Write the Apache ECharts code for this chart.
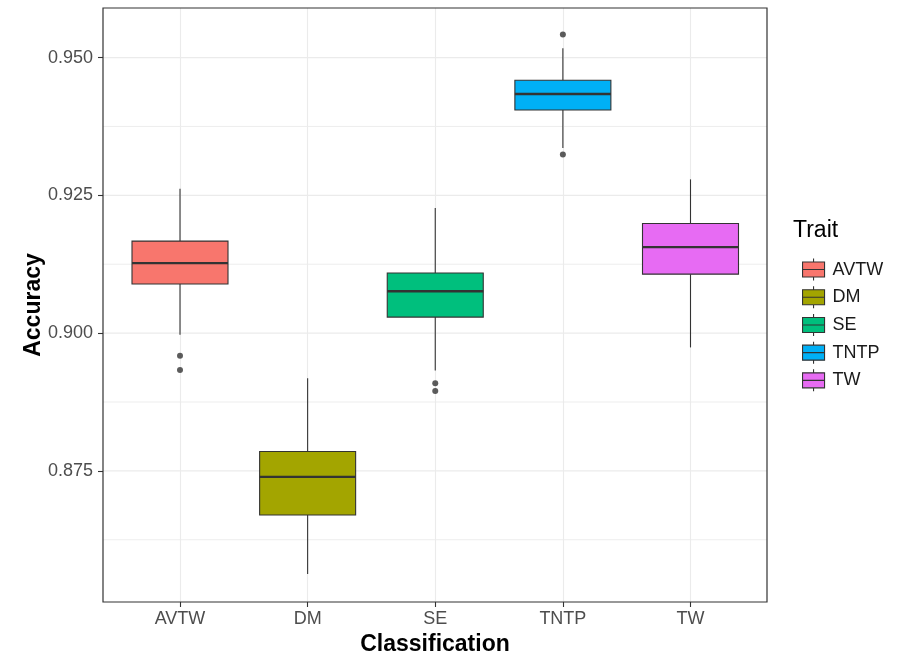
<!DOCTYPE html>
<html>
<head>
<meta charset="utf-8">
<script src="https://cdn.jsdelivr.net/npm/echarts@6/dist/echarts.min.js"></script>
<style>
  html, body { margin: 0; padding: 0; background: #fff; }
  #chart { width: 897px; height: 656px; }
</style>
</head>
<body>
<div id="chart"></div>
<script>
// Classification accuracy per trait: five-number summaries and outliers
const categories = ['AVTW', 'DM', 'SE', 'TNTP', 'TW'];
const traits = ['AVTW', 'DM', 'SE', 'TNTP', 'TW'];
const lowerWhisker = [0.8997, 0.8563, 0.8932, 0.9336, 0.8974];
const q1Values     = [0.9089, 0.8670, 0.9029, 0.9405, 0.9107];
const medians      = [0.9127, 0.8739, 0.9076, 0.9434, 0.9156];
const q3Values     = [0.9167, 0.8785, 0.9109, 0.9459, 0.9199];
const upperWhisker = [0.9262, 0.8918, 0.9227, 0.9517, 0.9279];
const outliers = [
  [0, 0.8959], [0, 0.8933],
  [2, 0.8909], [2, 0.8895],
  [3, 0.9542], [3, 0.9324]
];
const yTicks = [0.875, 0.900, 0.925, 0.950];
const yMinorTicks = [0.8625, 0.8875, 0.9125, 0.9375];
const traitColors = ['#F8766D', '#A3A500', '#00BF7D', '#00B0F6', '#E76BF3'];

const FONT = 'Liberation Sans, Arial, sans-serif';
const Y_MIN = 0.8512, Y_MAX = 0.9590;
const BOX_HALF = 48;
const OUTLINE = '#333333';
const GRID_COLOR = '#EBEBEB';

const chart = echarts.init(document.getElementById('chart'), null, { renderer: 'canvas' });

function renderBox(params, api) {
  const x = api.value(0);
  const lo = api.coord([x, api.value(1)]);
  const q1 = api.coord([x, api.value(2)]);
  const md = api.coord([x, api.value(3)]);
  const q3 = api.coord([x, api.value(4)]);
  const hi = api.coord([x, api.value(5)]);
  const cx = md[0];
  const fill = api.visual('color');
  return {
    type: 'group',
    children: [
      { type: 'line', shape: { x1: cx, y1: hi[1], x2: cx, y2: q3[1] },
        style: { stroke: OUTLINE, lineWidth: 1.1 } },
      { type: 'line', shape: { x1: cx, y1: q1[1], x2: cx, y2: lo[1] },
        style: { stroke: OUTLINE, lineWidth: 1.1 } },
      { type: 'rect', shape: { x: cx - BOX_HALF, y: q3[1], width: BOX_HALF * 2, height: q1[1] - q3[1] },
        style: { fill: fill, stroke: OUTLINE, lineWidth: 1.1 } },
      { type: 'line', shape: { x1: cx - BOX_HALF, y1: md[1], x2: cx + BOX_HALF, y2: md[1] },
        style: { stroke: OUTLINE, lineWidth: 2.4 } }
    ]
  };
}

// horizontal panel grid line spanning the whole panel width
function renderGridLine(params, api) {
  const y = api.coord([0, api.value(0)])[1];
  const major = api.value(1) === 1;
  return {
    type: 'line',
    shape: { x1: params.coordSys.x, y1: y, x2: params.coordSys.x + params.coordSys.width, y2: y },
    style: { stroke: GRID_COLOR, lineWidth: major ? 1.2 : 0.9 }
  };
}

const gridLineData = yTicks.map(v => [v, 1]).concat(yMinorTicks.map(v => [v, 0]));

const boxSeries = traits.map((name, i) => ({
  name: name,
  type: 'custom',
  xAxisIndex: 1,
  yAxisIndex: 1,
  renderItem: renderBox,
  itemStyle: { color: traitColors[i] },
  encode: { x: 0, y: [1, 2, 3, 4, 5] },
  data: [[i, lowerWhisker[i], q1Values[i], medians[i], q3Values[i], upperWhisker[i]]],
  z: 3
}));

const legendIcon = 'path://M0,3.5 L22,3.5 L22,18.5 L0,18.5 Z M11,0 L11,3.5 M11,18.5 L11,22 M0,11 L22,11';

const option = {
  backgroundColor: '#ffffff',
  animation: false,
  grid: [
    { left: 103, right: 130, top: 8, height: 594, show: true, borderColor: OUTLINE, borderWidth: 1.2, z: 5 },
    { left: 180, right: 206.5, top: 8, height: 594 }
  ],
  xAxis: [
    { type: 'value', gridIndex: 0, min: 0, max: 1, show: false, splitLine: { show: false } },
    {
      type: 'category', gridIndex: 1, data: categories, boundaryGap: false,
      axisLine: { show: false },
      axisTick: { show: true, length: 5, lineStyle: { color: OUTLINE, width: 1.1 } },
      axisLabel: { fontFamily: FONT, fontSize: 18, color: '#4D4D4D', margin: 8 },
      splitLine: { show: true, lineStyle: { color: GRID_COLOR, width: 1.1 } }
    }
  ],
  yAxis: [
    {
      type: 'value', gridIndex: 0, min: Y_MIN, max: Y_MAX,
      axisLine: { show: false },
      axisTick: { show: true, length: 5, lineStyle: { color: OUTLINE, width: 1.1 },
                  customValues: yTicks },
      axisLabel: { fontFamily: FONT, fontSize: 18, color: '#4D4D4D', margin: 10,
                   customValues: yTicks, formatter: v => v.toFixed(3) },
      splitLine: { show: false },
      minorTick: { show: false },
      minorSplitLine: { show: false }
    },
    { type: 'value', gridIndex: 1, min: Y_MIN, max: Y_MAX, show: false, splitLine: { show: false } }
  ],
  legend: {
    data: traits,
    orient: 'vertical',
    left: 797,
    top: 253,
    itemWidth: 22,
    itemHeight: 22,
    itemGap: 4.6,
    icon: legendIcon,
    itemStyle: { borderColor: OUTLINE, borderWidth: 1.1 },
    textStyle: { fontFamily: FONT, fontSize: 18, color: '#1a1a1a', padding: [0, 0, 0, 3] },
    selectedMode: false
  },
  graphic: [
    { type: 'text', z: 10, x: 34, y: 305, rotation: Math.PI / 2,
      style: { text: 'Accuracy', font: 'bold 23px ' + FONT, fill: '#000', align: 'center', verticalAlign: 'middle' } },
    { type: 'text', z: 10, x: 435, y: 645,
      style: { text: 'Classification', font: 'bold 23px ' + FONT, fill: '#000', align: 'center', verticalAlign: 'middle' } },
    { type: 'text', z: 10, x: 793, y: 231,
      style: { text: 'Trait', font: '23px ' + FONT, fill: '#000', align: 'left', verticalAlign: 'middle' } }
  ],
  series: [
    {
      type: 'custom', xAxisIndex: 0, yAxisIndex: 0, silent: true,
      renderItem: renderGridLine,
      encode: { y: 0 },
      data: gridLineData,
      z: 1
    },
    ...boxSeries,
    {
      name: 'outliers',
      type: 'scatter', xAxisIndex: 1, yAxisIndex: 1,
      data: outliers,
      symbol: 'circle', symbolSize: 6,
      itemStyle: { color: OUTLINE },
      z: 4
    }
  ]
};

chart.setOption(option);
</script>
</body>
</html>
